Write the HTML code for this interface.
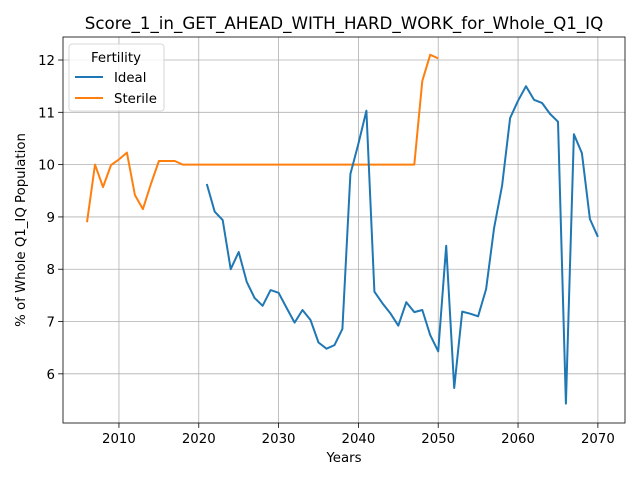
<!DOCTYPE html>
<html><head><meta charset="utf-8"><style>
body{margin:0;background:#fff}
svg text{font-family:"DejaVu Sans","Liberation Sans",sans-serif;fill:#000}
</style></head><body>
<svg id="chart" width="640" height="480" xmlns="http://www.w3.org/2000/svg">
<rect width="640" height="480" fill="#fff"/>
<g id="grid"></g><g id="series"></g><g id="axes"></g>
</svg>
<script>
const xTicks=[2010,2020,2030,2040,2050,2060,2070];
const yTicks=[6,7,8,9,10,11,12];
const idealYears=[];for(let y=2021;y<=2070;y++)idealYears.push(y);
const idealValues=[9.63,9.10,8.94,8.0,8.33,7.76,7.45,7.30,7.6,7.55,7.26,6.98,7.22,7.03,6.6,6.48,6.55,6.86,9.82,10.4,11.03,7.57,7.35,7.16,6.92,7.37,7.18,7.22,6.74,6.43,8.45,5.73,7.19,7.15,7.1,7.62,8.79,9.6,10.89,11.22,11.5,11.24,11.18,10.97,10.82,5.43,10.58,10.22,8.96,8.62];
const sterileYears=[];for(let y=2006;y<=2050;y++)sterileYears.push(y);
const sterileValues=[8.9,10.0,9.57,9.99,10.1,10.23,9.42,9.15,9.63,10.07,10.07,10.07,10.0,10,10,10,10,10,10,10,10,10,10,10,10,10,10,10,10,10,10,10,10,10,10,10,10,10,10,10,10,10,11.6,12.1,12.03];
const L=63,R=625,T=37,B=423;
const xMin=2002.99,xMax=2073.4,yMin=5.06,yMax=12.44;
const sx=v=>L+(v-xMin)/(xMax-xMin)*(R-L);
const sy=v=>B-(v-yMin)/(yMax-yMin)*(B-T);
const NS='http://www.w3.org/2000/svg';
function mk(tag,attrs,parent,txt){const e=document.createElementNS(NS,tag);for(const k in attrs)e.setAttribute(k,attrs[k]);if(txt!==undefined)e.textContent=txt;parent.appendChild(e);return e;}
const grid=document.getElementById('grid'),axes=document.getElementById('axes'),ser=document.getElementById('series');
xTicks.forEach(t=>{const x=sx(t);
 const g=mk('line',{x1:x,x2:x,y1:T,y2:B,stroke:'#b0b0b0','stroke-width':0.8},grid);
 
 
 mk('line',{x1:x,x2:x,y1:B,y2:B+4.9,stroke:'#000','stroke-width':0.8},axes);
 const l=mk('text',{x:x,y:B+20,'text-anchor':'middle','font-size':13.3},axes,t);
 
 });
yTicks.forEach(t=>{const y=sy(t);
 const g=mk('line',{x1:L,x2:R,y1:y,y2:y,stroke:'#b0b0b0','stroke-width':0.8},grid);
 
 
 mk('line',{x1:L-4.9,x2:L,y1:y,y2:y,stroke:'#000','stroke-width':0.8},axes);
 const l=mk('text',{x:L-8,y:y+5,'text-anchor':'end','font-size':13.3},axes,t);
 
 });
const frame=mk('rect',{x:L,y:T,width:R-L,height:B-T,fill:'none',stroke:'#000','stroke-width':0.8},axes);


function line(xs,vs,color,name){const d=xs.map((x,i)=>(i?'L':'M')+sx(x).toFixed(1)+','+sy(vs[i]).toFixed(1)).join('');
 const p=mk('path',{d:d,fill:'none',stroke:color,'stroke-width':2,'stroke-linejoin':'round'},ser);
 
 }
line(sterileYears,sterileValues,'#ff7f0e','sterile-line');
line(idealYears,idealValues,'#1f77b4','ideal-line');
const title=mk('text',{x:344,y:29,'text-anchor':'middle','font-size':16.7},axes,'Score_1_in_GET_AHEAD_WITH_HARD_WORK_for_Whole_Q1_IQ');


const xt=mk('text',{x:344,y:462,'text-anchor':'middle','font-size':13.3},axes,'Years');


const yt=mk('text',{x:0,y:0,'text-anchor':'middle','font-size':13.3,transform:'translate(25,230) rotate(-90)'},axes,'% of Whole Q1_IQ Population');


const lg=mk('g',{},axes);


mk('rect',{x:69,y:44,width:95,height:67,rx:3,fill:'#fff','fill-opacity':0.8,stroke:'#ccc','stroke-width':0.8},lg);
mk('text',{x:116,y:62,'text-anchor':'middle','font-size':13.3},lg,'Fertility');
[['Ideal','#1f77b4',77],['Sterile','#ff7f0e',98]].forEach(([n,c,y])=>{
 const e=mk('g',{},lg);
 
 
 mk('line',{x1:75,x2:103,y1:y,y2:y,stroke:c,'stroke-width':2},e);
 mk('text',{x:114,y:y+5,'font-size':13.3},e,n);});
</script>
</body></html>
